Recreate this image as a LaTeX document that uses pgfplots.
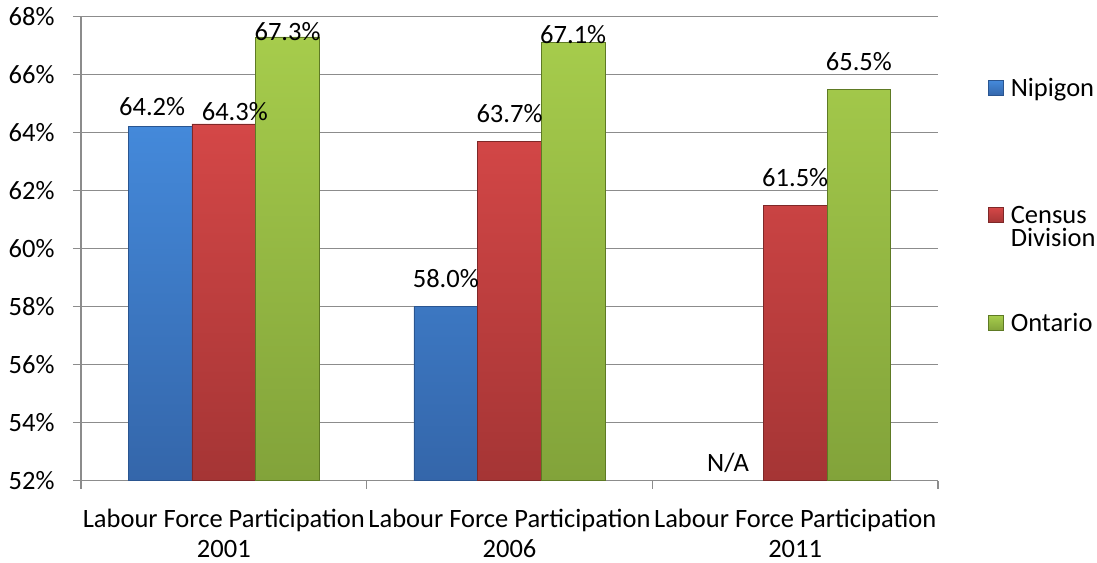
\documentclass[border=0pt]{standalone}
\usepackage{fontspec}
\setmainfont{Carlito}
\usepackage{pgfplots}
\usepackage{pgfplotstable}
\pgfplotsset{compat=1.18}
\pgfplotsset{mylegend/.style={legend image code/.code={\draw[##1] (0bp,1bp) rectangle (15bp,16bp);}}}
\definecolor{bluetop}{HTML}{4489DA}
\definecolor{bluebot}{HTML}{3466AA}
\definecolor{blueedge}{HTML}{2A5590}
\definecolor{redtop}{HTML}{D44747}
\definecolor{redbot}{HTML}{A53535}
\definecolor{rededge}{HTML}{7E2828}
\definecolor{greentop}{HTML}{A6CC4C}
\definecolor{greenbot}{HTML}{82A33A}
\definecolor{greenedge}{HTML}{5E7A24}
\definecolor{gridgray}{HTML}{8C8C8C}
\pgfplotstableread{
x y dy dx
0 64.2 20 -8
1 58.0 28 0
}\nipigon
\pgfplotstableread{
x y dy dx
0 64.3 12 11
1 63.7 28 0
2 61.5 28 0
}\census
\pgfplotstableread{
x y dy dx
0 67.3 5 0
1 67.1 8 0
2 65.5 28 0
}\ontario
\begin{document}
\begin{tikzpicture}[font=\fontsize{26.5bp}{30bp}\selectfont]
\useasboundingbox (-81bp,-82.3bp) rectangle (1016bp,480.7bp);
\begin{axis}[
  at={(0,0)}, anchor=south west,
  scale only axis, width=857bp, height=464bp,
  xmin=-0.5, xmax=2.5, ymin=52, ymax=68,
  ybar=0pt, bar width=63.7bp,
  axis lines*=left,
  axis line style={gridgray, line width=1.1bp},
  ymajorgrids, grid style={gridgray, line width=1.1bp},
  ytick={52,54,...,68},
  yticklabels={52\%,54\%,56\%,58\%,60\%,62\%,64\%,66\%,68\%},
  yticklabel style={xshift=-15bp},
  xtick={0,1,2},
  xticklabels={Labour Force Participation\\2001,Labour Force Participation\\2006,Labour Force Participation\\2011},
  xticklabel style={align=center, yshift=-17bp},
  major x tick style={draw=none},
  minor xtick={-0.5,0.5,1.5,2.5},
  tick align=outside,
  tick style={gridgray, line width=1.1bp},
  major tick length=8bp, minor tick length=8bp,
  nodes near coords={\pgfmathprintnumber[fixed,fixed zerofill,precision=1]{\pgfplotspointmeta}\%},
  /pgf/number format/assume math mode=true,
  visualization depends on={\thisrow{dy} \as \dy},
  visualization depends on={\thisrow{dx} \as \dx},
  nodes near coords style={anchor=center, inner sep=0pt, yshift={\dy*1bp}, xshift={\dx*1bp}, text=black},
  legend style={draw=none, fill=none, inner sep=0pt, outer sep=0pt, row sep=0pt, column sep=7bp,
    nodes={inner sep=0pt, anchor=base west, text depth=4bp},
    at={(axis description cs:1.0583,0.8668)}, anchor=north west},
]
\addplot[draw=blueedge, line width=0.8bp, top color=bluetop, bottom color=bluebot, mylegend]
  table[x=x,y=y] {\nipigon};
\addlegendentry{Nipigon\rule{0pt}{18bp}}
\addplot[draw=rededge, line width=0.8bp, top color=redtop, bottom color=redbot, mylegend]
  table[x=x,y=y] {\census};
\addlegendentry{Census\rule{0pt}{123bp}}
\addlegendimage{empty legend}
\addlegendentry{Division\rule{0pt}{19bp}}
\addplot[draw=greenedge, line width=0.8bp, top color=greentop, bottom color=greenbot, mylegend]
  table[x=x,y=y] {\ontario};
\addlegendentry{Ontario\rule{0pt}{81bp}}
\node[anchor=base, inner sep=0pt] at (axis cs:1.765,52) [yshift=9bp] {N/A};
\end{axis}
\end{tikzpicture}
\end{document}
